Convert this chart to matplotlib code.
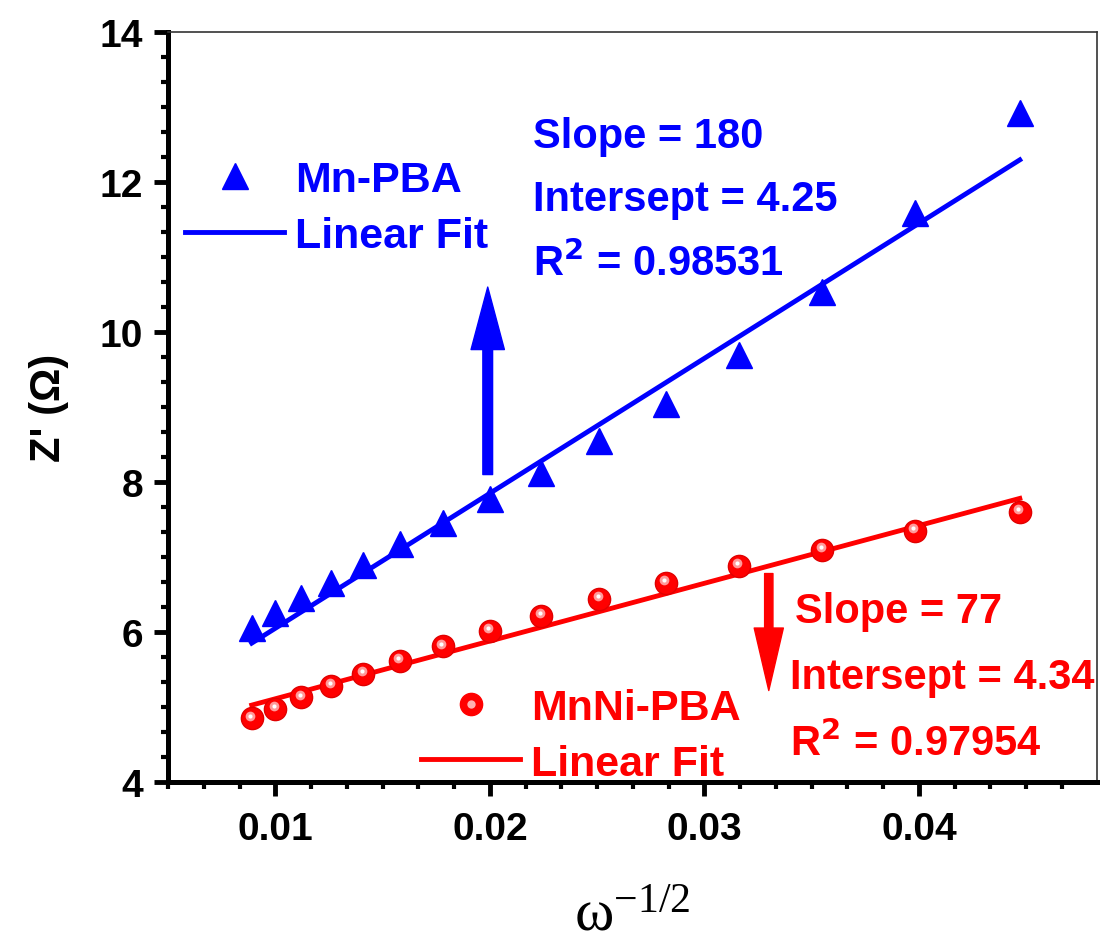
import numpy as np
import matplotlib.pyplot as plt
from matplotlib.lines import Line2D
from matplotlib.legend_handler import HandlerTuple
from matplotlib.ticker import MultipleLocator, AutoMinorLocator
from matplotlib.transforms import ScaledTranslation

# omega^(-1/2) values shared by both samples
x = [0.0089, 0.0100, 0.0112, 0.0126, 0.0141, 0.0158, 0.0178, 0.0200,
     0.0224, 0.0251, 0.0282, 0.0316, 0.0355, 0.0398, 0.0447]

# Z' (ohm)
mn_pba = [6.06, 6.26, 6.45, 6.66, 6.89, 7.17, 7.46, 7.78,
          8.12, 8.55, 9.04, 9.69, 10.53, 11.59, 12.92]
mnni_pba = [4.85, 4.98, 5.13, 5.28, 5.44, 5.62, 5.81, 6.02,
            6.22, 6.44, 6.66, 6.88, 7.10, 7.35, 7.60]

# linear fits as printed on the chart
mn_slope, mn_icpt, mn_r2 = 180, 4.25, "0.98531"
mnni_slope, mnni_icpt, mnni_r2 = 77, 4.34, "0.97954"

BLUE = '#0000ff'
RED = '#ff0000'

plt.rcParams['font.family'] = ['Liberation Sans', 'DejaVu Sans']
plt.rcParams['font.weight'] = 'bold'

fig = plt.figure(figsize=(11.02, 9.45), dpi=100)
ax = fig.add_axes([0.1525, 0.1714, 0.8430, 0.7936])

xf = np.array([x[0], x[-1]])
ax.plot(xf, mn_slope * xf + mn_icpt, color=BLUE, lw=3.5, zorder=2)
ax.plot(xf, mnni_slope * xf + mnni_icpt, color=RED, lw=3.5, zorder=2)

ax.plot(x, mn_pba, ls='none', marker='^', ms=19, color=BLUE, zorder=3)
ax.plot(x, mnni_pba, ls='none', marker='o', ms=16, color=RED,
        mec='#e00000', zorder=3)
# sphere highlight on the red markers
hl = ax.transData + ScaledTranslation(-1 / 72, 2 / 72, fig.dpi_scale_trans)
ax.plot(x, mnni_pba, ls='none', marker='o', ms=7, color='#ff9a9a',
        mew=0, transform=hl, zorder=4)
ax.plot(x, mnni_pba, ls='none', marker='o', ms=3, color='white',
        mew=0, transform=hl, zorder=5)

ax.set_xlim(0.005, 0.0483)
ax.set_ylim(4, 14)
ax.xaxis.set_major_locator(MultipleLocator(0.01))
ax.xaxis.set_minor_locator(AutoMinorLocator(6))
ax.yaxis.set_major_locator(MultipleLocator(2))
ax.yaxis.set_minor_locator(AutoMinorLocator(6))
ax.tick_params(which='major', length=10, width=3.5, labelsize=28, pad=8)
ax.tick_params(which='minor', length=5, width=3)
ax.tick_params(axis='x', which='major', pad=11)
ax.xaxis.set_major_formatter(plt.FuncFormatter(lambda v, p: f"{v:.2f}"))
for s in ['left', 'bottom']:
    ax.spines[s].set_linewidth(3.6)
for s in ['top', 'right']:
    ax.spines[s].set_linewidth(1.2)
    ax.spines[s].set_color('#333333')

ax.set_ylabel("Z' (Ω)", fontsize=30, fontweight='bold', labelpad=22)
ax.set_xlabel(r'$\mathregular{\omega^{-1/2}}$', fontsize=43,
              fontfamily='Liberation Serif', fontweight='normal', labelpad=30)

# legends
h1 = [Line2D([], [], ls='none', marker='^', ms=19, color=BLUE),
      Line2D([], [], color=BLUE, lw=3.5)]
leg1 = ax.legend(h1, ['Mn-PBA', 'Linear Fit'], loc='upper left',
                 bbox_to_anchor=(0.0, 0.852), frameon=False, fontsize=31,
                 handlelength=2.3, handletextpad=0.25, labelspacing=0.36,
                 labelcolor=BLUE, borderaxespad=0)
ax.add_artist(leg1)
h2 = [(Line2D([], [], ls='none', marker='o', ms=16, color=RED),
       Line2D([], [], ls='none', marker='o', ms=6, color='#ffb0b0', mew=0)),
      Line2D([], [], color=RED, lw=3.5)]
ax.legend(h2, ['MnNi-PBA', 'Linear Fit'], loc='lower left',
          bbox_to_anchor=(0.254, -0.025), frameon=False, fontsize=31,
          handlelength=2.3, handletextpad=0.25, labelspacing=0.36,
          labelcolor=RED, borderaxespad=0,
          handler_map={tuple: HandlerTuple(ndivide=1)})

# fit parameters
kw = dict(fontsize=30, fontweight='bold', va='center', ha='left')
ax.text(0.0220, 12.61, f"Slope = {mn_slope}", color=BLUE, **kw)
ax.text(0.0220, 11.77, f"Intersept = {mn_icpt}", color=BLUE, **kw)
ax.text(0.0220, 10.93, f"R$^2$ = {mn_r2}", color=BLUE, **kw)
ax.text(0.0342, 6.28, f"Slope = {mnni_slope}", color=RED, **kw)
ax.text(0.0340, 5.40, f"Intersept = {mnni_icpt}", color=RED, **kw)
ax.text(0.0340, 4.52, f"R$^2$ = {mnni_r2}", color=RED, **kw)

# arrows
ax.annotate('', xy=(0.0199, 10.6), xytext=(0.0199, 8.1),
            arrowprops=dict(width=7, headwidth=24, headlength=45,
                            color=BLUE, shrink=0))
ax.annotate('', xy=(0.0330, 5.22), xytext=(0.0330, 6.78),
            arrowprops=dict(width=6, headwidth=21, headlength=45,
                            color=RED, shrink=0))

fig.savefig('out.png', dpi=100)
